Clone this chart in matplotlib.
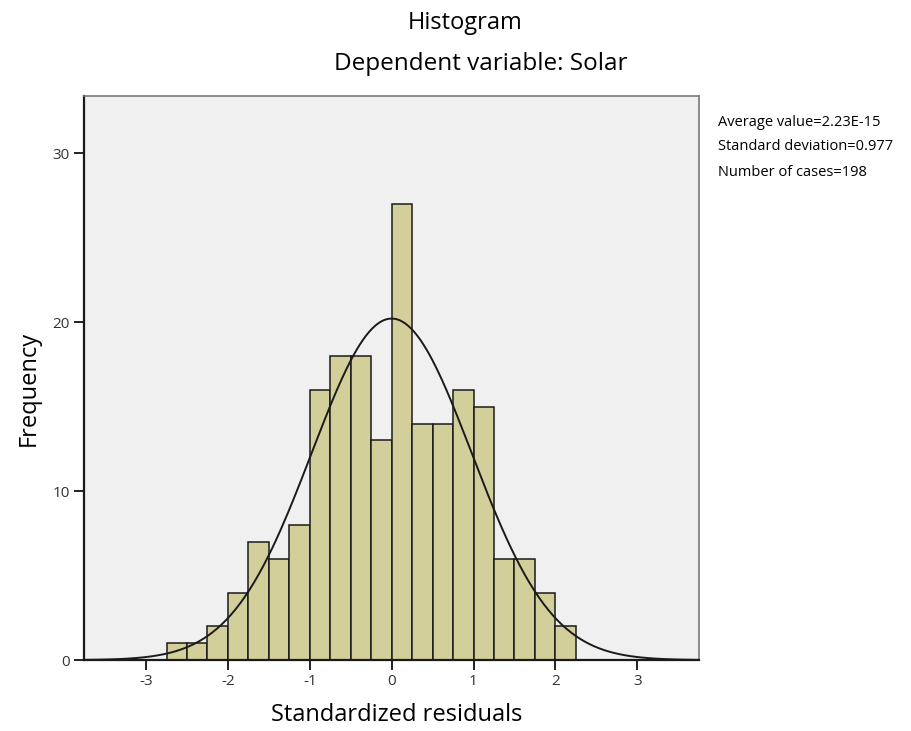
import numpy as np
import matplotlib
matplotlib.use("Agg")
import matplotlib.pyplot as plt

# histogram of standardized residuals, bins of width 0.25
bin_edges = [-2.75, -2.5, -2.25, -2.0, -1.75, -1.5, -1.25, -1.0, -0.75, -0.5, -0.25,
             0.0, 0.25, 0.5, 0.75, 1.0, 1.25, 1.5, 1.75, 2.0, 2.25]
counts = [1, 1, 2, 4, 7, 6, 8, 16, 18, 18, 13, 27, 14, 14, 16, 15, 6, 6, 4, 2]
mean_val = 2.23e-15
std_val = 0.977
n_cases = 198
x_ticks = [-3, -2, -1, 0, 1, 2, 3]
y_ticks = [0, 10, 20, 30]

plt.rcParams['font.family'] = ['Open Sans', 'DejaVu Sans']

fig = plt.figure(figsize=(9.12, 7.31), dpi=100)
ax = fig.add_axes([0.092, 0.097, 0.674, 0.772])
ax.set_facecolor('#f0f0f0')

left = np.array(bin_edges[:-1])
widths = np.diff(bin_edges)
ax.bar(left, counts, width=widths, align='edge', color='#d3cf9b',
       edgecolor='#1a1a1a', linewidth=1.1, zorder=2)

# normal curve scaled to counts
xs = np.linspace(-3.76, 3.76, 400)
bw = widths[0]
ys = n_cases * bw / (std_val * np.sqrt(2 * np.pi)) * np.exp(-0.5 * ((xs - mean_val) / std_val) ** 2)
ax.plot(xs, ys, color='#1a1a1a', linewidth=1.4, zorder=3)

ax.set_xlim(-3.76, 3.75)
ax.set_ylim(0, 33.4)
ax.set_xticks(x_ticks)
ax.set_xticklabels([str(t) for t in x_ticks])
ax.set_yticks(y_ticks)
ax.set_yticklabels([str(t) for t in y_ticks])
ax.tick_params(direction='out', length=7, width=1.4, colors='#222222',
               labelsize=11, labelcolor='#333333', pad=3)
for side in ['left', 'bottom']:
    ax.spines[side].set_color('#1a1a1a')
    ax.spines[side].set_linewidth(1.6)
for side in ['top', 'right']:
    ax.spines[side].set_color('#7a7a7a')
    ax.spines[side].set_linewidth(1.2)

fig.text(0.435, 0.013, 'Standardized residuals', ha='center', va='baseline', fontsize=17)
fig.text(0.031, 0.469, 'Frequency', ha='center', va='center', rotation=90, fontsize=17)

fig.text(0.510, 0.969, 'Histogram', ha='center', va='center', fontsize=17)
fig.text(0.527, 0.913, 'Dependent variable: Solar', ha='center', va='center', fontsize=17.5)

stats = ['Average value=%.2fE-15' % (mean_val * 1e15),
         'Standard deviation=%.3f' % std_val,
         'Number of cases=%d' % n_cases]
for i, s in enumerate(stats):
    fig.text(0.787, 1 - (122 + i * 25) / 731, s, ha='left', va='center', fontsize=10.5)

fig.savefig('out.png', dpi=100)
